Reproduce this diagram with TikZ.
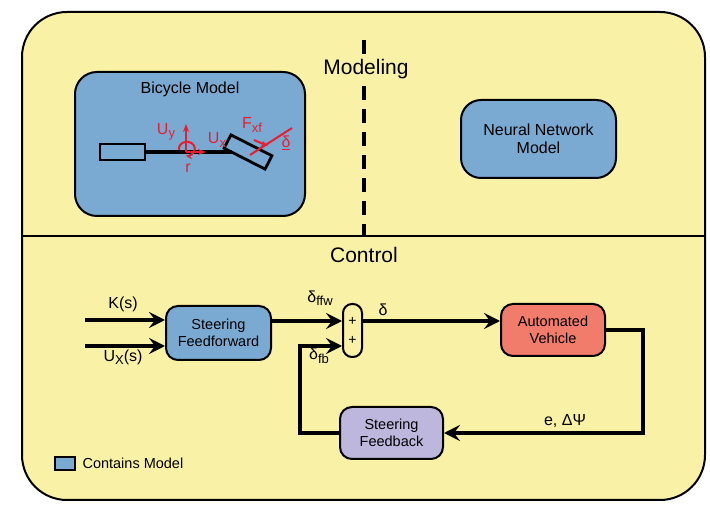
\documentclass[tikz,border=0pt]{standalone}
\usepackage{fontspec}
\setmainfont{Liberation Sans}
\usetikzlibrary{arrows.meta}
\newcommand{\sbs}[1]{\raisebox{-3.5pt}{\fontsize{13}{13}\selectfont #1}}
\begin{document}
\begin{tikzpicture}[x=1pt,y=-1pt,
  box/.style={draw=black,line width=2pt,rounded corners=12pt,align=center,font=\fontsize{16}{18}\selectfont,inner sep=0pt},
  wire/.style={line width=3.4pt},
  arr/.style={wire,-{Stealth[length=16pt,width=16pt,inset=6pt]}},
  red/.style={draw={rgb,255:red,230;green,30;blue,50},line width=2pt},
  lab/.style={font=\fontsize{16}{18}\selectfont}]
\definecolor{bg}{RGB}{249,241,165}
\definecolor{bl}{RGB}{122,170,210}
\definecolor{rd}{RGB}{241,124,108}
\definecolor{lv}{RGB}{190,183,221}
\definecolor{rr}{RGB}{230,30,50}
\useasboundingbox (0,0) rectangle (710,510);
\draw[fill=bg,line width=2pt,rounded corners=45pt] (22,12) rectangle (705,500);
\draw[line width=2pt] (22,236) -- (705,236);
\draw[line width=3.4pt,dash pattern=on 14pt off 9pt] (364,40) -- (364,236);
\node[font=\fontsize{21}{24}\selectfont,fill=bg,inner sep=1pt] (mod) at (366,69) {Modeling};
\node[font=\fontsize{21}{24}\selectfont] (ctl) at (364,255) {Control};
% bicycle model
\node[box,fill=bl,rounded corners=22pt,minimum width=230pt,minimum height=144pt] (bm) at (190,144) {};
\node[lab] (bmt) at (190,89) {Bicycle Model};
\draw[line width=2.8pt] (100,144) rectangle (145,160);
\draw[line width=3.4pt] (145,152) -- (232,152);
\draw[line width=2.8pt,rotate around={-27:(248,152)}] (225,144.5) rectangle (271,159.5);
\draw[red,-{Stealth[length=8pt]}] (186,152) -- (186,124);
\draw[red,-{Stealth[length=8pt]}] (186,152) -- (206,152);
\draw[red,-{Stealth[length=7pt]}] (179,150) arc[start angle=190,end angle=-100,x radius=8pt,y radius=7pt];
\node[text=rr,lab] (uy) at (166,132) {U\sbs{y}};
\node[text=rr,lab] (ux) at (217,140) {U\sbs{x}};
\node[text=rr,lab] (rl) at (188,168) {r};
\node[text=rr,lab] (fx) at (252,125) {F\sbs{xf}};
\draw[red] (250,155) -- (292,128);
\draw[red,-{Stealth[length=7pt]}] (254,140) -- (268,146);
\node[text=rr,lab] (dl) at (286,143) {\underline{δ}};
% NN
\node[box,fill=bl,rounded corners=20pt,minimum width=155pt,minimum height=78pt] (nn) at (538.5,139) {Neural Network\\Model};
% control
\node[box,fill=bl,minimum width=105pt,minimum height=54pt,font=\fontsize{14.5}{17}\selectfont] (ff) at (218.5,333) {Steering\\Feedforward};
\node[box,rounded corners=9pt,minimum width=19pt,minimum height=53pt,font=\fontsize{14}{19}\selectfont] (sum) at (352.5,330.5) {+\\+};
\node[box,fill=rd,minimum width=104pt,minimum height=52pt,font=\fontsize{14.5}{17}\selectfont] (av) at (553,330) {Automated\\Vehicle};
\node[box,fill=lv,minimum width=103pt,minimum height=52pt,font=\fontsize{14.5}{17}\selectfont] (fb) at (391.5,433) {Steering\\Feedback};
\coordinate (k0) at (85,320); \coordinate (u0) at (85,346);
\draw[arr] (k0) -- (ff.west |- k0);
\draw[arr] (u0) -- (ff.west |- u0);
\node[lab] (kl) at (123,304) {K(s)};
\node[lab] (ul) at (123,357) {U\sbs{X}(s)};
\draw[arr] (ff.east |- 0,321) -- (sum.west |- 0,321);
\draw[arr] (sum.east |- 0,321) -- (av.west |- 0,321);
\node[lab] (d1) at (383,310) {δ};
\node[lab] (dffw) at (320,298) {δ\sbs{ffw}};
\node[lab] (dfb) at (319,356) {δ\sbs{fb}};
\draw[arr] (av.east |- 0,330) -- (643,330) -- (643,433) -- (fb.east);
\node[lab] (ep) at (565,421) {e, ΔΨ};
\draw[arr] (fb.west) -- (300,433) -- (300,346) -- (sum.west |- 0,346);
% legend
\draw[fill=bl,line width=1.3pt] (55,457) rectangle (75,470);
\node[font=\fontsize{14.5}{17}\selectfont,anchor=west] (lg) at (79,463.5) {Contains Model};
\end{tikzpicture}
\end{document}
